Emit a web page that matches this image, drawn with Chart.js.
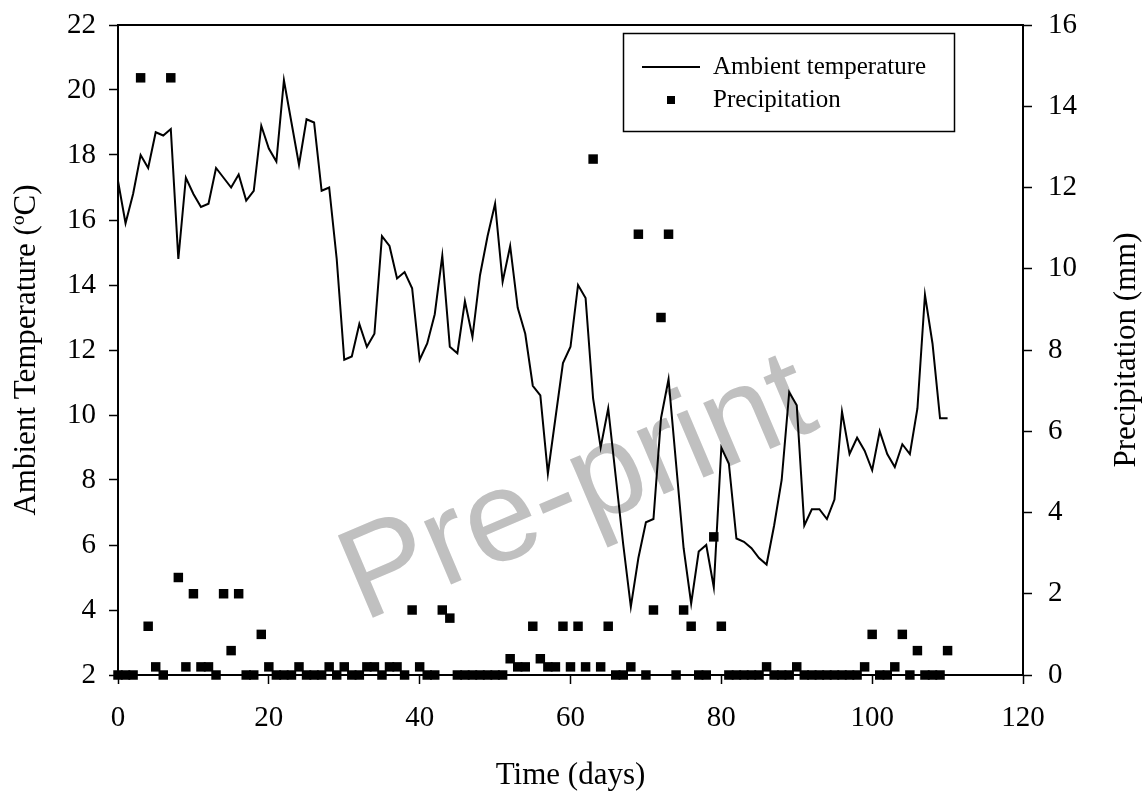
<!DOCTYPE html>
<html>
<head>
<meta charset="utf-8">
<script src="https://cdn.jsdelivr.net/npm/chart.js@4.4.1/dist/chart.umd.min.js"></script>
<style>
    body { margin: 0; background: #fff; }
    #wrap { width: 1144px; height: 798px; position: relative; }
</style>
</head>
<body>
<div id="wrap"><canvas id="chartTempPrecip"></canvas></div>
<script>
// Data (one value per day)
var days = [];
for (var d = 0; d <= 110; d++) days.push(d);

var ambientTemp = [
    17.2, 15.9, 16.8, 18.0, 17.6, 18.7, 18.6, 18.8, 14.8, 17.3,
    16.8, 16.4, 16.5, 17.6, 17.3, 17.0, 17.4, 16.6, 16.9, 18.9,
    18.2, 17.8, 20.3, 19.0, 17.7, 19.1, 19.0, 16.9, 17.0, 14.8,
    11.7, 11.8, 12.8, 12.1, 12.5, 15.5, 15.2, 14.2, 14.4, 13.9,
    11.7, 12.2, 13.1, 14.9, 12.1, 11.9, 13.5, 12.4, 14.3, 15.5,
    16.5, 14.1, 15.2, 13.3, 12.5, 10.9, 10.6, 8.2, 9.9, 11.6,
    12.1, 14.0, 13.6, 10.5, 9.0, 10.2, 8.1, 6.0, 4.1, 5.6,
    6.7, 6.8, 9.9, 11.1, 8.5, 5.9, 4.2, 5.8, 6.0, 4.7,
    9.0, 8.5, 6.2, 6.1, 5.9, 5.6, 5.4, 6.6, 8.0, 10.7,
    10.3, 6.6, 7.1, 7.1, 6.8, 7.4, 10.1, 8.8, 9.3, 8.9,
    8.3, 9.5, 8.8, 8.4, 9.1, 8.8, 10.2, 13.7, 12.2, 9.9,
    9.9
];

var precipitation = [
    0, 0, 0, 14.7, 1.2, 0.2, 0, 14.7, 2.4, 0.2,
    2.0, 0.2, 0.2, 0, 2.0, 0.6, 2.0, 0, 0, 1.0,
    0.2, 0, 0, 0, 0.2, 0, 0, 0, 0.2, 0,
    0.2, 0, 0, 0.2, 0.2, 0, 0.2, 0.2, 0, 1.6,
    0.2, 0, 0, 1.6, 1.4, 0, 0, 0, 0, 0,
    0, 0, 0.4, 0.2, 0.2, 1.2, 0.4, 0.2, 0.2, 1.2,
    0.2, 1.2, 0.2, 12.7, 0.2, 1.2, 0, 0, 0.2, 10.85,
    0, 1.6, 8.8, 10.85, 0, 1.6, 1.2, 0, 0, 3.4,
    1.2, 0, 0, 0, 0, 0, 0.2, 0, 0, 0,
    0.2, 0, 0, 0, 0, 0, 0, 0, 0, 0.2,
    1.0, 0, 0, 0.2, 1.0, 0, 0.6, 0, 0, 0,
    0.6
];

var xTicks = [0, 20, 40, 60, 80, 100, 120];
var tempTicks = [2, 4, 6, 8, 10, 12, 14, 16, 18, 20, 22];
var precipTicks = [0, 2, 4, 6, 8, 10, 12, 14, 16];

var serif = "'Liberation Serif', 'Times New Roman', serif";

// Pre-print watermark, drawn under the data
var watermark = {
    id: 'watermark',
    beforeDatasetsDraw: function (chart) {
        var ctx = chart.ctx;
        ctx.save();
        ctx.translate(363, 622);
        ctx.rotate(-23 * Math.PI / 180);
        ctx.font = "130px 'Liberation Sans', Arial, sans-serif";
        ctx.fillStyle = '#c0c0c0';
        ctx.textAlign = 'left';
        ctx.textBaseline = 'alphabetic';
        ctx.fillText('Pre-print', 0, 0);
        ctx.restore();
    }
};

// top frame line, boxed legend, right axis title
var extras = {
    id: 'extras',
    afterDraw: function (chart) {
        var ctx = chart.ctx;
        var a = chart.chartArea;
        ctx.save();
        ctx.strokeStyle = '#000';
        ctx.lineWidth = 2;
        ctx.beginPath();
        ctx.moveTo(a.left - 1, a.top);
        ctx.lineTo(a.right + 1, a.top);
        ctx.stroke();

        // legend
        ctx.lineWidth = 1.5;
        ctx.strokeRect(623.5, 33.5, 331, 98);
        ctx.beginPath();
        ctx.lineWidth = 2;
        ctx.moveTo(642, 67);
        ctx.lineTo(700, 67);
        ctx.stroke();
        ctx.fillStyle = '#000';
        ctx.fillRect(667, 96, 8, 8);
        ctx.font = '25px ' + serif;
        ctx.textAlign = 'left';
        ctx.textBaseline = 'middle';
        ctx.fillText(chart.data.datasets[0].label, 713, 67);
        ctx.fillText(chart.data.datasets[1].label, 713, 100);

        // right title, reading bottom to top
        ctx.font = '31px ' + serif;
        ctx.translate(1127, (a.top + a.bottom) / 2);
        ctx.rotate(-Math.PI / 2);
        ctx.textAlign = 'center';
        ctx.fillText('Precipitation (mm)', 0, 0);
        ctx.restore();
    }
};

function fitVertical(width) {
    return function (s) {
        s.width = width;
        s.paddingTop = 0;
        s.paddingBottom = 0;
    };
}

function initChart() {
    var ctx = document.getElementById('chartTempPrecip').getContext('2d');
    var tempPoints = days.map(function (x, i) { return { x: x, y: ambientTemp[i] }; });
    var precipPoints = days.map(function (x, i) { return { x: x, y: precipitation[i] }; });

    return new Chart(ctx, {
        type: 'line',
        data: {
            datasets: [{
                label: 'Ambient temperature',
                data: tempPoints,
                yAxisID: 'y',
                borderColor: '#000',
                borderWidth: 2,
                pointRadius: 0,
                tension: 0,
                order: 2
            }, {
                label: 'Precipitation',
                data: precipPoints,
                yAxisID: 'y1',
                showLine: false,
                pointStyle: 'rect',
                pointRadius: 6.7,
                pointBorderWidth: 0,
                pointBackgroundColor: '#000',
                pointBorderColor: '#000',
                clip: false,
                order: 1
            }]
        },
        options: {
            responsive: true,
            maintainAspectRatio: false,
            animation: false,
            devicePixelRatio: 1,
            layout: { padding: { top: 25, left: 0, right: 0, bottom: 0 } },
            plugins: {
                legend: { display: false },
                tooltip: { enabled: false }
            },
            scales: {
                x: {
                    type: 'linear',
                    min: xTicks[0],
                    max: xTicks[xTicks.length - 1],
                    afterBuildTicks: function (s) { s.ticks = xTicks.map(function (v) { return { value: v }; }); },
                    afterFit: function (s) { s.height = 123; s.paddingLeft = 0; s.paddingRight = 0; },
                    grid: { drawOnChartArea: false, drawTicks: true, tickLength: 9, tickWidth: 1.5, tickColor: '#000' },
                    border: { display: true, color: '#000', width: 2 },
                    ticks: { color: '#000', padding: 17, font: { family: serif, size: 29 }, maxRotation: 0 },
                    title: { display: true, text: 'Time (days)', color: '#000', font: { family: serif, size: 31 }, padding: { top: 0, bottom: 4 } }
                },
                y: {
                    position: 'left',
                    min: tempTicks[0],
                    max: tempTicks[tempTicks.length - 1],
                    afterBuildTicks: function (s) { s.ticks = tempTicks.map(function (v) { return { value: v }; }); },
                    afterFit: fitVertical(118),
                    grid: { drawOnChartArea: false, drawTicks: true, tickLength: 9, tickWidth: 1.5, tickColor: '#000' },
                    border: { display: true, color: '#000', width: 2 },
                    ticks: { color: '#000', padding: 13, font: { family: serif, size: 29 } },
                    title: { display: true, text: 'Ambient Temperature (ºC)', color: '#000', font: { family: serif, size: 31 }, padding: { top: 8, bottom: 0 } }
                },
                y1: {
                    position: 'right',
                    min: precipTicks[0],
                    max: precipTicks[precipTicks.length - 1],
                    afterBuildTicks: function (s) { s.ticks = precipTicks.map(function (v) { return { value: v }; }); },
                    afterFit: fitVertical(121),
                    grid: { drawOnChartArea: false, drawTicks: true, tickLength: 9, tickWidth: 1.5, tickColor: '#000' },
                    border: { display: true, color: '#000', width: 2 },
                    ticks: { color: '#000', padding: 16, font: { family: serif, size: 29 } },
                    title: { display: false }
                }
            }
        },
        plugins: [watermark, extras]
    });
}

initChart();
</script>
</body>
</html>
